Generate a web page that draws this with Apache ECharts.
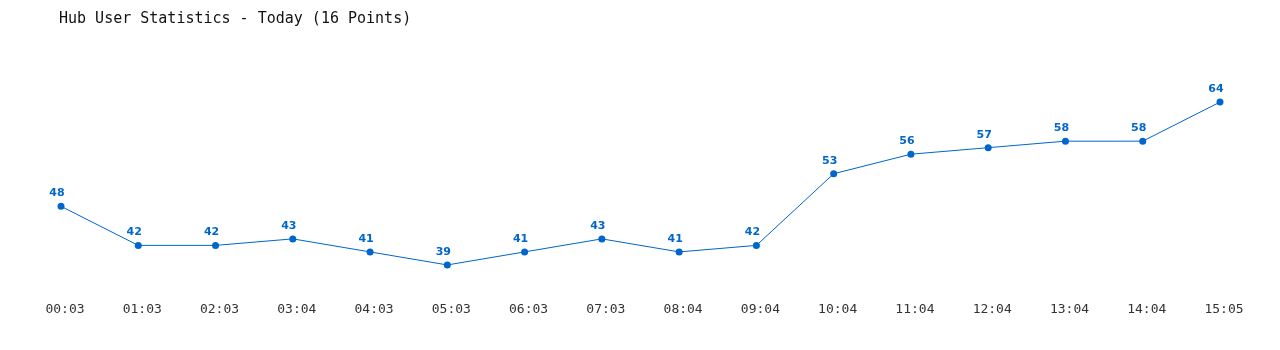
<!DOCTYPE html>
<html><head><meta charset="utf-8">
<script src="https://cdn.jsdelivr.net/npm/echarts@6/dist/echarts.min.js"></script>
<style>html,body{margin:0;padding:0;background:#fff}#c{width:1280px;height:350px}</style>
</head><body><div id="c"></div>
<script>
const titleText = 'Hub User Statistics - Today (16 Points)';
const categories = ['00:03','01:03','02:03','03:04','04:03','05:03','06:03','07:03','08:04','09:04','10:04','11:04','12:04','13:04','14:04','15:05'];
const users = [48,42,42,43,41,39,41,43,41,42,53,56,57,58,58,64];

const chart = echarts.init(document.getElementById('c'), null, {renderer:'canvas'});
chart.setOption({
  backgroundColor:'#fff',
  animation:false,
  title:{text:titleText,left:54,top:7,textStyle:{fontFamily:'DejaVu Sans Mono',fontSize:15,fontWeight:'normal',color:'#111'}},
  grid:{left:61,right:60,top:63,bottom:59,containLabel:false},
  xAxis:{type:'category',data:categories,boundaryGap:false,
    axisLine:{show:false},axisTick:{show:false},splitLine:{show:false},
    axisLabel:{margin:12,padding:[0,0,0,8],fontFamily:'DejaVu Sans Mono',fontSize:13,color:'#333'}},
  yAxis:{type:'value',min:35,max:70,show:false,splitLine:{show:false}},
  series:[{type:'line',data:users,symbol:'circle',symbolSize:7,
    lineStyle:{color:'#0066cc',width:1},itemStyle:{color:'#0066cc'},
    label:{show:true,position:'top',distance:4,offset:[-4,0],fontFamily:'DejaVu Sans',fontWeight:'bold',fontSize:11,color:'#0066cc'}}]
});
</script></body></html>
